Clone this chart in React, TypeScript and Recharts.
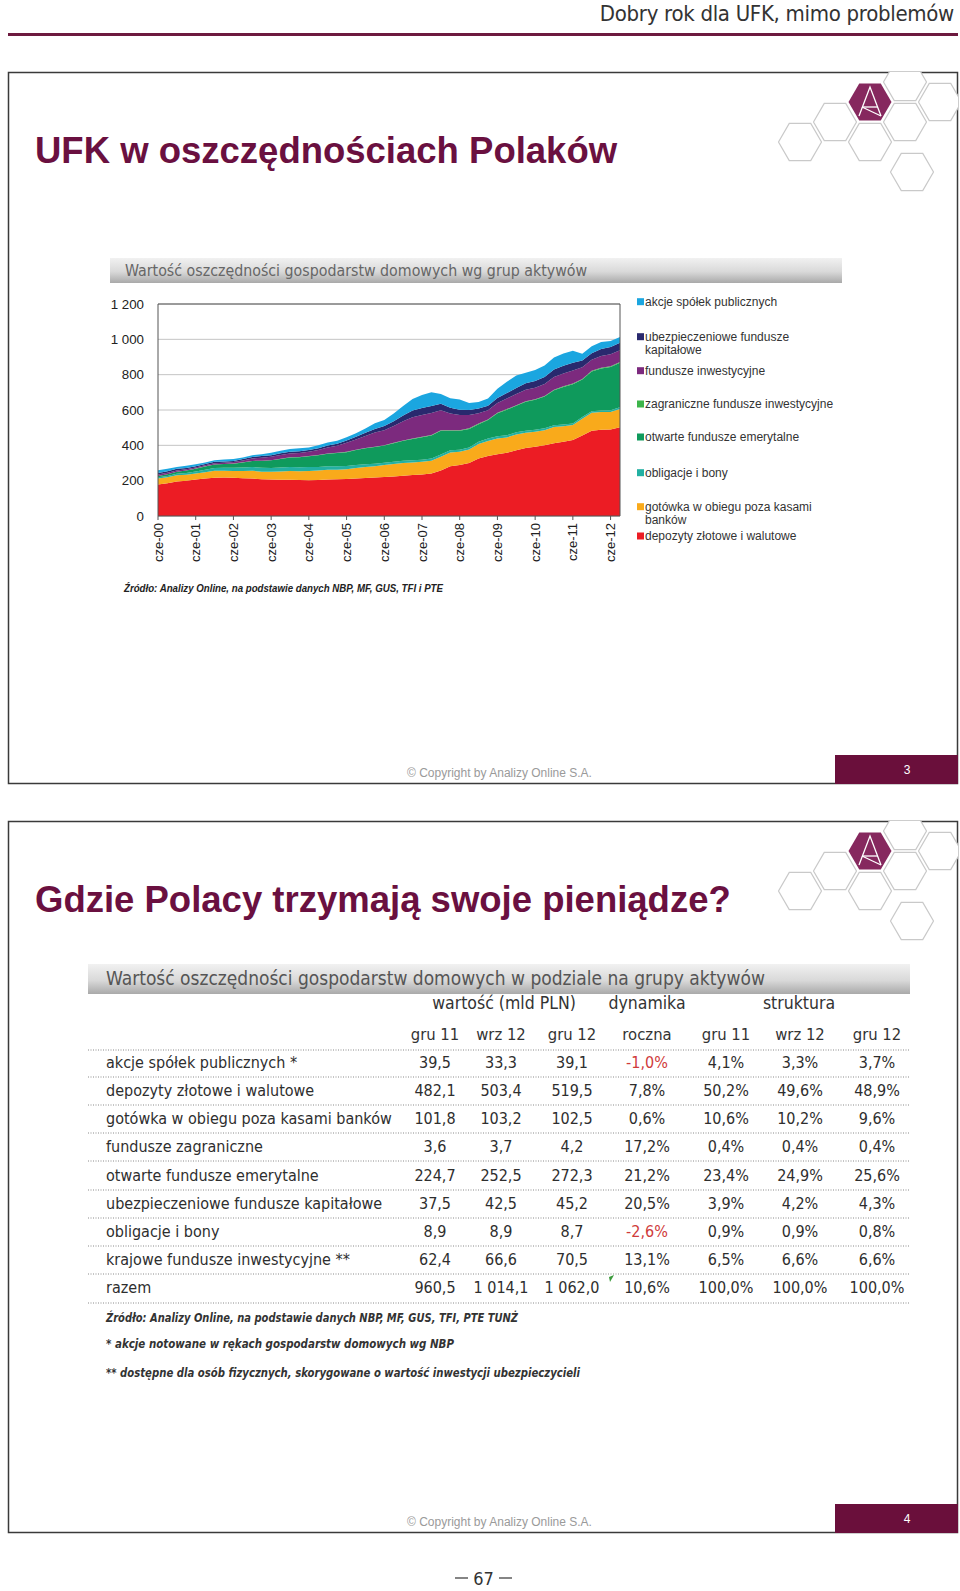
import React from 'react';
import { AreaChart, Area, XAxis, YAxis, CartesianGrid, ReferenceLine } from 'recharts';

// ---------- chart data (quarterly, months since June 2000) ----------
const months = [0,3,6,9,12,15,18,21,24,27,30,33,36,39,42,45,48,51,54,57,60,63,66,69,72,75,78,81,84,87,90,93,96,99,102,105,108,111,114,117,120,123,126,129,132,135,138,141,144,147];
const depozyty = [178,186,195,200,206,212,216,218,216,214,212,208,206,205,205,204,203,204,207,208,210,212,215,218,221,224,228,232,235,240,258,282,288,300,325,340,350,358,372,385,392,400,412,420,430,455,482,488,490,503];
const gotowka = [34,33,35,33,34,36,40,38,39,41,44,43,44,47,50,50,52,53,55,54,55,59,62,63,67,70,72,71,72,73,78,78,75,76,82,85,89,87,90,86,85,86,92,88,85,96,102,100,99,103];
const obligacje = [7,8,9,11,12,14,16,17,18,20,21,22,22,23,23,22,22,21,20,19,18,17,16,15,14,13,13,12,12,12,12,12,12,12,13,13,13,12,12,11,11,10,10,10,9,9,9,9,9,9];
const otwarteFE = [7,9,11,13,16,18,19,21,23,28,34,39,43,48,53,57,61,66,71,75,78,85,90,94,97,105,113,121,127,130,135,110,108,105,100,105,130,145,150,165,170,180,198,212,222,212,225,238,245,252];
const zagraniczneFI = [1,1,1,1,1,1,1,1,1,1,1,1,1,1,1,1,1,1,1,2,2,2,2,2,2,2,2,3,3,3,3,3,3,3,3,3,3,3,3,3,3,3,3,4,4,4,4,4,4,4];
const funduszeInw = [8,8,7,6,5,6,7,7,8,10,14,17,19,21,22,23,24,28,34,40,52,58,68,80,85,95,108,120,123,125,112,95,86,75,58,52,55,60,63,65,65,68,72,73,74,66,62,66,68,67];
const ubezpieczeniowe = [9,9,9,8,8,8,8,7,7,8,8,9,9,10,10,10,10,11,11,11,12,15,18,21,23,28,33,38,40,40,38,33,30,29,27,26,28,31,34,36,38,40,42,43,44,38,37,40,41,42];
const akcje = [15,14,11,13,11,8,9,11,10,9,10,11,14,14,15,16,15,16,17,17,19,20,24,32,34,43,53,65,73,77,55,54,58,40,37,41,52,64,71,60,62,65,68,70,68,38,40,40,35,33];

const yearTicks = [0,12,24,36,48,60,72,84,96,108,120,132,144];
const xTickLabels = ['cze-00','cze-01','cze-02','cze-03','cze-04','cze-05','cze-06','cze-07','cze-08','cze-09','cze-10','cze-11','cze-12'];
const yTicks = [0,200,400,600,800,1000,1200];
const yTickLabels = ['0','200','400','600','800','1 000','1 200'];

// series in stacking order (bottom -> top)
const seriesKeys = ['dep','got','obl','ofe','zag','fin','ubz','akc'];
const seriesNames = ['depozyty złotowe i walutowe','gotówka w obiegu poza kasami banków','obligacje i bony','otwarte fundusze emerytalne','zagraniczne fundusze inwestycyjne','fundusze inwestycyjne','ubezpieczeniowe fundusze kapitałowe','akcje spółek publicznych'];
const seriesColors = ['#ec1c24','#f9aa1b','#22b0a2','#0f9a5c','#3db54a','#7c2a7e','#29296e','#1ba6e0'];
const seriesValues = [depozyty,gotowka,obligacje,otwarteFE,zagraniczneFI,funduszeInw,ubezpieczeniowe,akcje];

const chartData = months.map((m, i) => {
  const row: any = { m };
  seriesKeys.forEach((k, j) => { row[k] = seriesValues[j][i]; });
  return row;
});

// legend (top -> bottom) with line breaks as in the original
const legendLines = [
  ['akcje spółek publicznych'],
  ['ubezpieczeniowe fundusze', 'kapitałowe'],
  ['fundusze inwestycyjne'],
  ['zagraniczne fundusze inwestycyjne'],
  ['otwarte fundusze emerytalne'],
  ['obligacje i bony'],
  ['gotówka w obiegu poza kasami', 'banków'],
  ['depozyty złotowe i walutowe'],
];
const legendColors = ['#1ba6e0','#29296e','#7c2a7e','#3db54a','#0f9a5c','#22b0a2','#f9aa1b','#ec1c24'];

// ---------- table data ----------
const tableLabels = ['akcje spółek publicznych *','depozyty złotowe i walutowe','gotówka w obiegu poza kasami banków','fundusze zagraniczne','otwarte fundusze emerytalne','ubezpieczeniowe fundusze kapitałowe','obligacje i bony','krajowe fundusze inwestycyjne **','razem'];
const valGru11 = ['39,5','482,1','101,8','3,6','224,7','37,5','8,9','62,4','960,5'];
const valWrz12 = ['33,3','503,4','103,2','3,7','252,5','42,5','8,9','66,6','1 014,1'];
const valGru12 = ['39,1','519,5','102,5','4,2','272,3','45,2','8,7','70,5','1 062,0'];
const dynRoczna = ['-1,0%','7,8%','0,6%','17,2%','21,2%','20,5%','-2,6%','13,1%','10,6%'];
const strGru11 = ['4,1%','50,2%','10,6%','0,4%','23,4%','3,9%','0,9%','6,5%','100,0%'];
const strWrz12 = ['3,3%','49,6%','10,2%','0,4%','24,9%','4,2%','0,9%','6,6%','100,0%'];
const strGru12 = ['3,7%','48,9%','9,6%','0,4%','25,6%','4,3%','0,8%','6,6%','100,0%'];
const colHeaders = ['gru 11','wrz 12','gru 12','roczna','gru 11','wrz 12','gru 12'];
const groupHeaders = ['wartość (mld PLN)','dynamika','struktura'];
const tableNotes = [
  'Źródło: Analizy Online, na podstawie danych NBP, MF, GUS, TFI, PTE TUNŻ',
  '* akcje notowane w rękach gospodarstw domowych wg NBP',
  '** dostępne dla osób fizycznych, skorygowane o wartość inwestycji ubezpieczycieli',
];

const F_ARIAL = "'Liberation Sans', Arial, sans-serif";
const F_COND = "'DejaVu Sans Condensed', 'DejaVu Sans', sans-serif";
const F_NARROW = "'Liberation Sans Narrow', 'Arial Narrow', 'DejaVu Sans Condensed', sans-serif";

const MAROON = '#6a1040';

const hexPts = (cx: number, cy: number, r: number) =>
  [[cx - r, cy], [cx - r / 2, cy - r * 0.866], [cx + r / 2, cy - r * 0.866], [cx + r, cy], [cx + r / 2, cy + r * 0.866], [cx - r / 2, cy + r * 0.866]]
    .map((p) => p.join(',')).join(' ');

const grayHexes = [[905, 82], [940, 102], [835, 122], [905, 122], [800, 142], [870, 142], [912, 172]];

function Slide({ top, title, num, clipId }: { top: number; title: string; num: string; clipId: string }) {
  const dy = top - 72;
  return (
    <g>
      <clipPath id={clipId}>
        <rect x={8} y={top} width={950} height={712} />
      </clipPath>
      <rect x={8.5} y={top + 0.5} width={949} height={711} fill="#fff" stroke="#3a3a3a" strokeWidth={1.5} />
      <g clipPath={`url(#${clipId})`}>
        {grayHexes.map(([cx, cy], i) => (
          <polygon key={i} points={hexPts(cx, cy + dy, 21.5)} fill="#fff" stroke="#c9c9c9" strokeWidth={1.2} />
        ))}
        <polygon points={hexPts(870, 102 + dy, 21.5)} fill="#86285e" />
        <g stroke="#fff" strokeWidth={1.3} fill="none">
          <polyline points={`${859},${116 + dy} ${870},${87 + dy} ${881},${116 + dy}`} />
          <line x1={862} y1={107 + dy} x2={878} y2={107 + dy} />
          <line x1={862} y1={107 + dy} x2={881} y2={116 + dy} />
        </g>
      </g>
      <text x={35} y={163 + dy} fontFamily={F_ARIAL} fontWeight="bold" fontSize={36.5} fill={MAROON}>{title}</text>
      <text x={407} y={777 + dy} fontFamily={F_ARIAL} fontSize={12} fill="#9a9a9a">© Copyright by Analizy Online S.A.</text>
      <rect x={835} y={755 + dy} width={123} height={29} fill="#6a0f3b" />
      <text x={907} y={774 + dy} fontFamily={F_ARIAL} fontSize={12} fill="#fff" textAnchor="middle">{num}</text>
    </g>
  );
}

const XTick = (props: any) => {
  const { x, y, payload } = props;
  const label = xTickLabels[yearTicks.indexOf(payload.value)];
  return (
    <text transform={`translate(${x},${y + 1}) rotate(-90)`} textAnchor="end" dominantBaseline="central" fontSize={13} fontFamily={F_ARIAL} fill="#222">
      {label}
    </text>
  );
};

const YTick = (props: any) => {
  const { x, y, payload } = props;
  const label = yTickLabels[yTicks.indexOf(payload.value)];
  return (
    <text x={x} y={y} textAnchor="end" dominantBaseline="central" fontSize={13.3} fontFamily={F_ARIAL} fill="#222">
      {label}
    </text>
  );
};

export default function App() {
  const colX = [435, 501, 572, 647, 726, 800, 877];
  const groupX = [504, 647, 799];
  const rowY = [1062, 1090, 1118, 1146, 1175, 1203, 1231, 1259, 1287];
  const lineY = [1050, 1077, 1105, 1133, 1161, 1190, 1218, 1246, 1274, 1303];
  const cols = [valGru11, valWrz12, valGru12, dynRoczna, strGru11, strWrz12, strGru12];
  const noteY = [1322, 1348, 1377];
  const noteLen = [412, 348, 474];

  return (
    <div style={{ position: 'absolute', left: 0, top: 0, width: 960, height: 1591, background: '#fff', overflow: 'hidden' }}>
      <svg width={960} height={1591} style={{ position: 'absolute', left: 0, top: 0 }}>
        <defs>
          <linearGradient id="barGrad" x1="0" y1="0" x2="0" y2="1">
            <stop offset="0" stopColor="#f1f1f1" />
            <stop offset="0.55" stopColor="#d9d9d9" />
            <stop offset="1" stopColor="#a9a9a9" />
          </linearGradient>
        </defs>
        <line x1={8} y1={34.5} x2={958} y2={34.5} stroke="#6d1a3f" strokeWidth={3} />

        <Slide top={72} title="UFK w oszczędnościach Polaków" num="3" clipId="c1" />
        <Slide top={821} title="Gdzie Polacy trzymają swoje pieniądze?" num="4" clipId="c2" />

        {/* chart title bar */}
        <rect x={110} y={258} width={732} height={25} fill="url(#barGrad)" />
        <text x={125} y={276} fontFamily={F_COND} fontSize={15.8} fill="#666">Wartość oszczędności gospodarstw domowych wg grup aktywów</text>

        {/* legend */}
        {legendLines.map((lines, i) => {
          const ys = [301.7, 336.7, 370.7, 404, 437, 472.7, 506.7, 536][i];
          return (
            <g key={i}>
              <rect x={637} y={ys - 3.5} width={7} height={7} fill={legendColors[i]} />
              {lines.map((t, k) => (
                <text key={k} x={645} y={ys + k * 13.5} dominantBaseline="central" fontFamily={F_ARIAL} fontSize={12} fill="#333">{t}</text>
              ))}
            </g>
          );
        })}

        <text x={124} y={592} fontFamily={F_ARIAL} fontStyle="italic" fontWeight="bold" fontSize={10.5} fill="#222" textLength={319} lengthAdjust="spacingAndGlyphs">Źródło: Analizy Online, na podstawie danych NBP, MF, GUS, TFI i PTE</text>

        {/* table */}
        <rect x={88} y={964} width={822} height={30} fill="url(#barGrad)" />
        <text x={106} y={985} fontFamily={F_COND} fontSize={19} fill="#555">Wartość oszczędności gospodarstw domowych w podziale na grupy aktywów</text>
        {groupHeaders.map((g, i) => (
          <text key={i} x={groupX[i]} y={1003} textAnchor="middle" dominantBaseline="central" fontFamily={F_COND} fontSize={17.5} fill="#333">{g}</text>
        ))}
        {colHeaders.map((g, i) => (
          <text key={i} x={colX[i]} y={1034} textAnchor="middle" dominantBaseline="central" fontFamily={F_COND} fontSize={16.5} fill="#333">{g}</text>
        ))}
        {lineY.map((y, i) => (
          <line key={i} x1={88} x2={910} y1={y} y2={y} stroke="#8a8a8a" strokeWidth={1} strokeDasharray="1,1.5" />
        ))}
        {tableLabels.map((lab, r) => (
          <g key={r} fontFamily={F_COND} fontSize={16}>
            <text x={106} y={rowY[r]} dominantBaseline="central" fill="#2e2e2e">{lab}</text>
            {cols.map((c, ci) => (
              <text key={ci} x={colX[ci]} y={rowY[r]} textAnchor="middle" dominantBaseline="central" fill={c[r].startsWith('-') ? '#cf3b3b' : '#2e2e2e'}>{c[r]}</text>
            ))}
          </g>
        ))}
        <polygon points="609,1277 614,1275 610,1282" fill="#3a9a3a" />
        {tableNotes.map((t, i) => (
          <text key={i} x={106} y={noteY[i]} fontFamily={F_NARROW} fontStyle="italic" fontWeight="bold" fontSize={12.5} fill="#333" textLength={noteLen[i]} lengthAdjust="spacingAndGlyphs">{t}</text>
        ))}

        {/* page number */}
        <line x1={455} y1={1578} x2={468} y2={1578} stroke="#333" strokeWidth={1.2} />
        <line x1={499} y1={1578} x2={512} y2={1578} stroke="#333" strokeWidth={1.2} />
        <text x={483.5} y={1585} textAnchor="middle" fontFamily={F_NARROW} fontSize={18} fill="#333">67</text>
      </svg>

      {/* page header */}
      <div style={{ position: 'absolute', right: 6, top: 2, height: 24, lineHeight: '24px', fontSize: 22, fontFamily: F_NARROW, color: '#333', letterSpacing: -0.3, whiteSpace: 'nowrap' }}>
        Dobry rok dla UFK, mimo problemów
      </div>

      <div style={{ position: 'absolute', left: 100, top: 294 }}>
        <AreaChart width={523} height={272} data={chartData} margin={{ top: 10, right: 3, left: 8, bottom: 0 }}>
          <CartesianGrid vertical={false} stroke="#c4c4c4" strokeWidth={1} />
          <XAxis
            dataKey="m"
            type="number"
            domain={[0, 147]}
            ticks={yearTicks}
            tick={<XTick />}
            tickSize={4}
            tickMargin={2}
            height={50}
            interval={0}
            axisLine={{ stroke: '#555' }}
            tickLine={{ stroke: '#555' }}
            allowDataOverflow
          />
          <YAxis
            type="number"
            domain={[0, 1200]}
            ticks={yTicks}
            tick={<YTick />}
            width={50}
            tickSize={0}
            tickMargin={14}
            tickLine={false}
            interval={0}
            axisLine={{ stroke: '#555' }}
          />
          {seriesKeys.map((k, j) => (
            <Area
              key={k}
              type="linear"
              dataKey={k}
              name={seriesNames[j]}
              stackId="1"
              stroke="none"
              fill={seriesColors[j]}
              fillOpacity={1}
              isAnimationActive={false}
              dot={false}
              activeDot={false}
            />
          ))}
          <ReferenceLine y={1200} stroke="#555" strokeWidth={1} />
          <ReferenceLine x={147} stroke="#555" strokeWidth={1} />
        </AreaChart>
      </div>
    </div>
  );
}
